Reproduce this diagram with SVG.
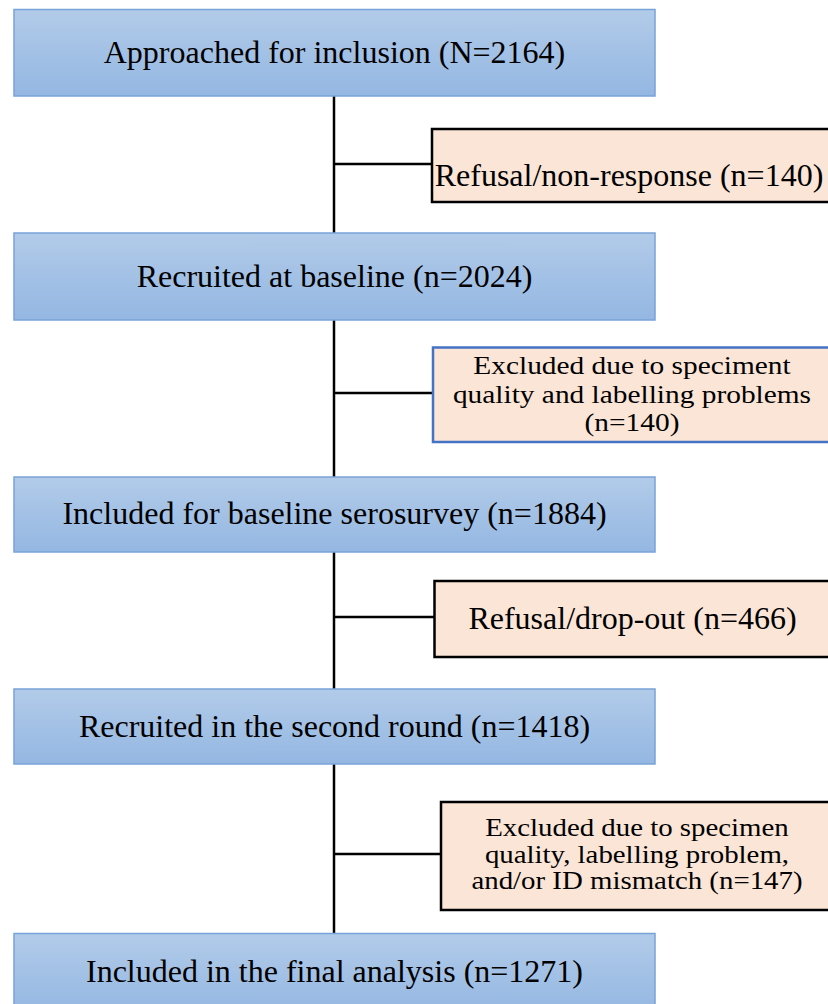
<svg xmlns="http://www.w3.org/2000/svg" width="828" height="1004" viewBox="0 0 828 1004">
<defs>
<linearGradient id="blueGrad" x1="0" y1="0" x2="0" y2="1">
<stop offset="0" stop-color="#B2CBE9"/>
<stop offset="1" stop-color="#94B7E2"/>
</linearGradient>
<style>
.main{fill:url(#blueGrad);stroke:#78A3D8;stroke-width:1.5}
.side{fill:#FBE5D6;stroke:#000;stroke-width:2.5}
.sideb{fill:#FBE5D6;stroke:#4472C4;stroke-width:2.5}
.t{font-family:"Liberation Serif","Times New Roman",serif;fill:#000;text-anchor:middle}
.m{font-size:32px}
.s{font-size:32px}
.s2{font-size:26px}
.c{stroke:#000;stroke-width:2.5;fill:none}
</style>
</defs>
<rect width="828" height="1004" fill="#fff"/>
<g id="connectors">
<line class="c" x1="334" y1="96" x2="334" y2="233"/>
<line class="c" x1="334" y1="320" x2="334" y2="477"/>
<line class="c" x1="334" y1="552" x2="334" y2="689"/>
<line class="c" x1="334" y1="764" x2="334" y2="933"/>
<line class="c" x1="334" y1="164" x2="432" y2="164"/>
<line class="c" x1="334" y1="393" x2="433" y2="393"/>
<line class="c" x1="334" y1="617" x2="435" y2="617"/>
<line class="c" x1="334" y1="854" x2="441" y2="854"/>
</g>
<g id="n1">
<rect class="main" x="14" y="9.5" width="641" height="86.5"/>
<text class="t m" x="334.5" y="62.5">Approached for inclusion (N=2164)</text>
</g>
<g id="s1">
<rect class="side" x="432" y="129" width="402" height="73"/>
<text class="t s" x="629" y="185.5">Refusal/non-response (n=140)</text>
</g>
<g id="n2">
<rect class="main" x="14" y="233" width="641" height="87"/>
<text class="t m" x="334.5" y="287">Recruited at baseline (n=2024)</text>
</g>
<g id="s2">
<rect class="sideb" x="433" y="347.5" width="401" height="94.5"/>
<g transform="translate(632 0) scale(1.13 1) translate(-632 0)">
<text class="t s2" x="632" y="374.3">Excluded due to speciment</text>
<text class="t s2" x="632" y="402.7">quality and labelling problems</text>
<text class="t s2" x="632" y="431">(n=140)</text>
</g>
</g>
<g id="n3">
<rect class="main" x="14" y="477" width="641" height="75"/>
<text class="t m" x="334.5" y="524.3">Included for baseline serosurvey (n=1884)</text>
</g>
<g id="s3">
<rect class="side" x="434.5" y="581" width="400" height="76"/>
<text class="t s" x="632.5" y="628.5">Refusal/drop-out (n=466)</text>
</g>
<g id="n4">
<rect class="main" x="14" y="689" width="641" height="75"/>
<text class="t m" x="334.5" y="737">Recruited in the second round (n=1418)</text>
</g>
<g id="s4">
<rect class="side" x="441" y="802" width="393" height="108"/>
<g transform="translate(637 0) scale(1.11 1) translate(-637 0)">
<text class="t s2" x="637" y="835.7">Excluded due to specimen</text>
<text class="t s2" x="637" y="862.7">quality, labelling problem,</text>
<text class="t s2" x="637" y="889">and/or ID mismatch (n=147)</text>
</g>
</g>
<g id="n5">
<rect class="main" x="14" y="933.5" width="641" height="80"/>
<text class="t m" x="334.5" y="982">Included in the final analysis (n=1271)</text>
</g>
</svg>
